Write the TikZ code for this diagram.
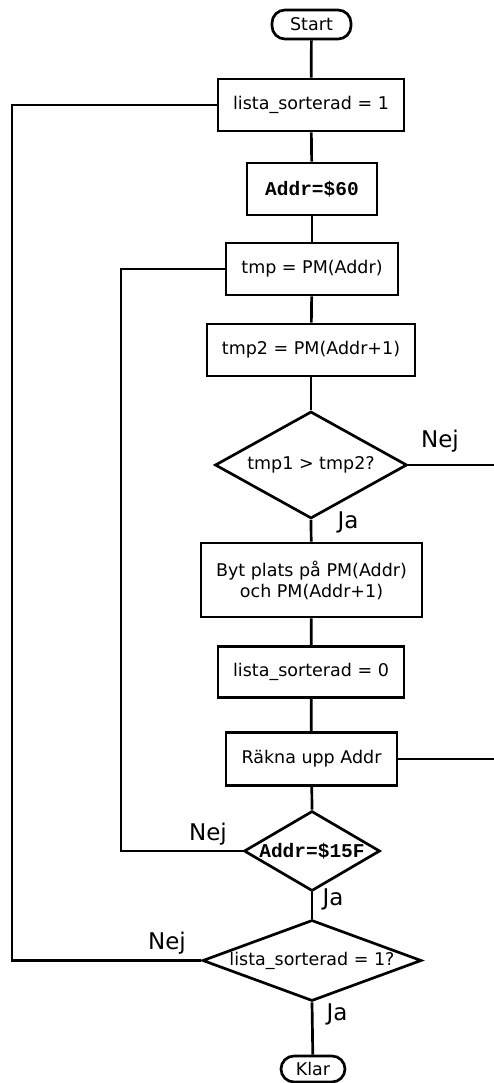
\documentclass[tikz,border=0pt]{standalone}
\usepackage{fontspec}
\setmainfont{DejaVu Sans}
\newfontfamily\codefont{Liberation Mono}
\usetikzlibrary{shapes.geometric}
\tikzset{
  flow/.style={line width=2.7pt},
  box/.style={draw, line width=2.7pt, rectangle, inner sep=0pt, font=\fontsize{17.5}{21}\selectfont},
  term/.style={box, rounded corners=13pt},
  decision/.style={draw, line width=2.7pt, diamond, inner sep=0pt},
  dtext/.style={font=\fontsize{17.5}{21}\selectfont, inner sep=0pt},
  code/.style={font=\codefont\bfseries\fontsize{19.5}{21}\selectfont},
  answer/.style={font=\fontsize{23}{26}\selectfont, inner sep=0pt},
}
\begin{document}
\begin{tikzpicture}[x=1pt,y=-1pt]
\useasboundingbox (0,0) rectangle (493,1083);

% process steps
\node[term, minimum width=79pt, minimum height=29pt] (start) at (311.5,24.5) {Start};
\node[box, minimum width=186pt, minimum height=52pt] (sort1) at (311,105) {lista\_sorterad = 1};
\node[box, code, minimum width=130pt, minimum height=52pt] (addr) at (312,189) {Addr=\$60};
\node[box, minimum width=172pt, minimum height=52pt] (tmp) at (312,269) {tmp = PM(Addr)};
\node[box, minimum width=208pt, minimum height=52pt] (tmptwo) at (311,350) {tmp2 = PM(Addr+1)};
\node[decision, minimum width=192pt, minimum height=107pt] (cmp) at (311,465) {};
\node[dtext] at (cmp) {tmp1 > tmp2?};
\node[box, minimum width=221pt, minimum height=74pt, align=center] (swap) at (311.5,580) {Byt plats på PM(Addr)\\och PM(Addr+1)};
\node[box, minimum width=186pt, minimum height=51pt] (sort0) at (311,672) {lista\_sorterad = 0};
\node[box, minimum width=171pt, minimum height=53pt] (inc) at (311.5,759) {Räkna upp Addr};
\node[decision, minimum width=136pt, minimum height=80pt] (last) at (312,851) {};
\node[dtext, code] at (last) {Addr=\$15F};
\node[decision, minimum width=219pt, minimum height=81pt] (done) at (312,960.5) {};
\node[dtext] at (done) {lista\_sorterad = 1?};
\node[term, minimum width=64pt, minimum height=26pt] (klar) at (313,1069) {Klar};

% loop columns and exits at the right edge
\coordinate (innerx) at (121,0);
\coordinate (outerx) at (12,0);
\coordinate (exitA) at (495,465);
\coordinate (exitB) at (495,759);

% main flow
\draw[flow] (start) -- (sort1);
\draw[flow] (sort1) -- (addr);
\draw[flow] (addr) -- (tmp);
\draw[flow] (tmp) -- (tmptwo);
\draw[flow] (tmptwo) -- (cmp.north);
\draw[flow] (cmp.south) -- (swap);
\draw[flow] (swap) -- (sort0);
\draw[flow] (sort0) -- (inc);
\draw[flow] (inc) -- (last.north);
\draw[flow] (last.south) -- (done.north);
\draw[flow] (done.south) -- (klar);

% branches
\draw[flow] (cmp.east) -- (exitA);
\draw[flow] (inc.east) -- (exitB);
\draw[flow] (last.west) -| (innerx |- tmp.west) -- (tmp.west);
\draw[flow] (done.west) -| (outerx |- sort1.west) -- (sort1.west);

% branch labels
\node[answer] (n1) at (440,441) {Nej};
\node[answer] (j1) at (348,522) {Ja};
\node[answer] (n2) at (208,834) {Nej};
\node[answer] (j2) at (333,899) {Ja};
\node[answer] (n3) at (167,943) {Nej};
\node[answer] (j3) at (337,1014) {Ja};
\end{tikzpicture}
\end{document}
